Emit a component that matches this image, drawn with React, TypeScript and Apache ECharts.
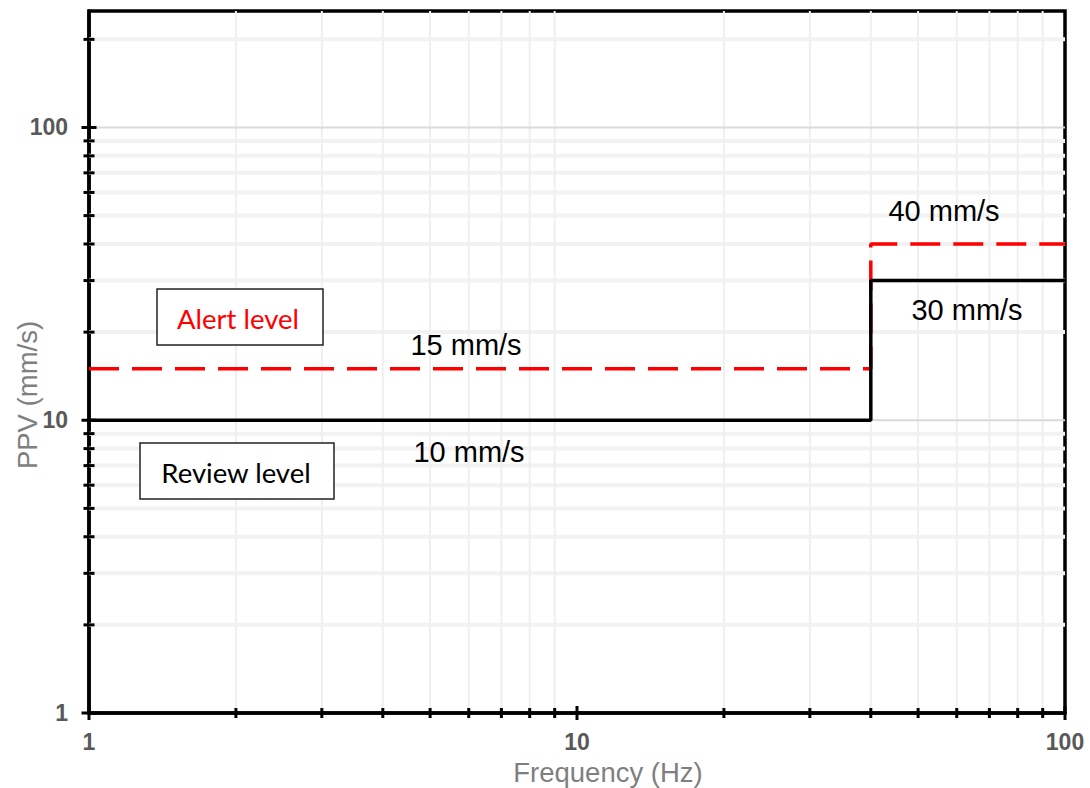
import React, { useEffect, useRef } from "react";
import * as echarts from "echarts";

// ---- data ----
const reviewFreq = [1, 40, 40, 100];
const reviewPPV = [10, 10, 30, 30];
const alertFreq = [1, 40, 40, 100];
const alertPPV = [15, 15, 40, 40];

const xMajor = [1, 10, 100];
const yMajor = [1, 10, 100];
const xMinor = [2, 3, 4, 5, 6, 7, 8, 9, 20, 30, 40, 50, 60, 70, 80, 90];
const yMinor = [2, 3, 4, 5, 6, 7, 8, 9, 20, 30, 40, 50, 60, 70, 80, 90, 200];
const xLabels = ["1", "10", "100"];
const yLabels = ["1", "10", "100"];

const xMin = 1;
const xMax = 100;
const yMin = 1;
const yMax = 250;

const annotations = [
  { text: "15 mm/s", x: 466, y: 345 },
  { text: "10 mm/s", x: 469, y: 452 },
  { text: "40 mm/s", x: 944, y: 211 },
  { text: "30 mm/s", x: 967, y: 310 },
];

export default function App() {
  const ref = useRef<HTMLDivElement>(null);

  useEffect(() => {
    if (!ref.current) return;
    const chart = echarts.init(ref.current, null, { renderer: "svg" });

    const hLine = (color: string, width: number) => (params: any, api: any) => {
      const cs = params.coordSys;
      const p = api.coord([api.value(0), api.value(1)]);
      return {
        type: "line",
        shape: { x1: cs.x, y1: p[1], x2: cs.x + cs.width, y2: p[1] },
        style: { stroke: color, lineWidth: width },
      };
    };
    const vLine = (color: string, width: number) => (params: any, api: any) => {
      const cs = params.coordSys;
      const p = api.coord([api.value(0), api.value(1)]);
      return {
        type: "line",
        shape: { x1: p[0], y1: cs.y, x2: p[0], y2: cs.y + cs.height },
        style: { stroke: color, lineWidth: width },
      };
    };
    const yTick = (half: number) => (params: any, api: any) => {
      const p = api.coord([api.value(0), api.value(1)]);
      return {
        type: "line",
        shape: { x1: p[0] - half, y1: p[1], x2: p[0] + half, y2: p[1] },
        style: { stroke: "#000", lineWidth: 3 },
      };
    };
    const xTick = (half: number) => (params: any, api: any) => {
      const p = api.coord([api.value(0), api.value(1)]);
      return {
        type: "line",
        shape: { x1: p[0], y1: p[1] - half, x2: p[0], y2: p[1] + half },
        style: { stroke: "#000", lineWidth: 3 },
      };
    };

    const customBase = { type: "custom", silent: true, clip: false, animation: false };

    const option: any = {
      animation: false,
      backgroundColor: "#ffffff",
      grid: {
        left: 89,
        right: 25,
        top: 11,
        bottom: 75,
        show: true,
        borderColor: "#000",
        borderWidth: 3.5,
        backgroundColor: "transparent",
      },
      xAxis: {
        type: "log",
        logBase: 10,
        min: xMin,
        max: xMax,
        axisLine: { show: true, lineStyle: { color: "#000", width: 3.5 } },
        axisTick: { show: false },
        splitLine: { show: false },
        axisLabel: {
          margin: 17,
          color: "#595959",
          fontFamily: "Liberation Sans, Arial, sans-serif",
          fontWeight: "bold",
          fontSize: 23,
          formatter: (v: number) => {
            const i = xMajor.findIndex((m) => Math.abs(m - v) < 1e-6 * m);
            return i >= 0 ? xLabels[i] : "";
          },
        },
      },
      yAxis: {
        type: "log",
        logBase: 10,
        min: yMin,
        max: yMax,
        axisLine: { show: true, lineStyle: { color: "#000", width: 3.5 } },
        axisTick: { show: false },
        splitLine: { show: false },
        axisLabel: {
          margin: 21,
          color: "#595959",
          fontFamily: "Liberation Sans, Arial, sans-serif",
          fontWeight: "bold",
          fontSize: 23,
          formatter: (v: number) => {
            const i = yMajor.findIndex((m) => Math.abs(m - v) < 1e-6 * m);
            return i >= 0 ? yLabels[i] : "";
          },
        },
      },
      series: [
        {
          ...customBase,
          z: 1,
          data: yMinor.map((v) => [xMin, v]),
          renderItem: hLine("#f2f2f2", 4),
        },
        {
          ...customBase,
          z: 1,
          data: xMinor.map((v) => [v, yMin]),
          renderItem: vLine("#efefef", 2),
        },
        {
          ...customBase,
          z: 1,
          data: yMajor.filter((v) => v > yMin).map((v) => [xMin, v]),
          renderItem: hLine("#d9d9d9", 2),
        },
        {
          type: "line",
          name: "Alert level",
          z: 3,
          data: alertFreq.map((f, i) => [f, alertPPV[i]]),
          symbol: "none",
          lineStyle: { color: "#ff0000", width: 3.5, type: [30, 13] },
        },
        {
          type: "line",
          name: "Review level",
          z: 4,
          data: reviewFreq.map((f, i) => [f, reviewPPV[i]]),
          symbol: "none",
          lineStyle: { color: "#000000", width: 3.5 },
        },
        {
          ...customBase,
          z: 6,
          data: yMinor.map((v) => [xMin, v]),
          renderItem: yTick(5.5),
        },
        {
          ...customBase,
          z: 6,
          data: yMajor.map((v) => [xMin, v]),
          renderItem: yTick(7.5),
        },
        {
          ...customBase,
          z: 6,
          data: xMinor.map((v) => [v, yMin]),
          renderItem: xTick(5),
        },
        {
          ...customBase,
          z: 6,
          data: xMajor.map((v) => [v, yMin]),
          renderItem: xTick(7),
        },
      ],
      graphic: [
        {
          type: "text",
          x: 608,
          y: 772,
          style: {
            text: "Frequency (Hz)",
            fill: "#7f7f7f",
            font: "27.5px 'Liberation Sans', Arial, sans-serif",
            textAlign: "center",
            textVerticalAlign: "middle",
          },
        },
        {
          type: "text",
          x: 27,
          y: 395,
          rotation: Math.PI / 2,
          style: {
            text: "PPV (mm/s)",
            fill: "#7f7f7f",
            font: "27.5px 'Liberation Sans', Arial, sans-serif",
            textAlign: "center",
            textVerticalAlign: "middle",
          },
        },
        ...annotations.map((a) => ({
          type: "text",
          x: a.x,
          y: a.y,
          z: 10,
          style: {
            text: a.text,
            fill: "#000",
            font: "29px 'Liberation Sans', Arial, sans-serif",
            textAlign: "center",
            textVerticalAlign: "middle",
          },
        })),
        {
          type: "rect",
          z: 10,
          shape: { x: 157, y: 289, width: 166, height: 56 },
          style: { fill: "#fff", stroke: "#222", lineWidth: 1.5 },
        },
        {
          type: "text",
          x: 238,
          y: 318,
          z: 11,
          style: {
            text: "Alert level",
            fill: "#ff0000",
            font: "27.5px Lato, 'Open Sans', sans-serif",
            textAlign: "center",
            textVerticalAlign: "middle",
          },
        },
        {
          type: "rect",
          z: 10,
          shape: { x: 140, y: 443, width: 194, height: 56 },
          style: { fill: "#fff", stroke: "#222", lineWidth: 1.5 },
        },
        {
          type: "text",
          x: 236,
          y: 472,
          z: 11,
          style: {
            text: "Review level",
            fill: "#000",
            font: "27.5px Lato, 'Open Sans', sans-serif",
            textAlign: "center",
            textVerticalAlign: "middle",
          },
        },
      ],
    };

    chart.setOption(option);
    return () => chart.dispose();
  }, []);

  return (
    <div
      ref={ref}
      style={{ position: "absolute", left: 0, top: 0, width: 1090, height: 788 }}
    />
  );
}
